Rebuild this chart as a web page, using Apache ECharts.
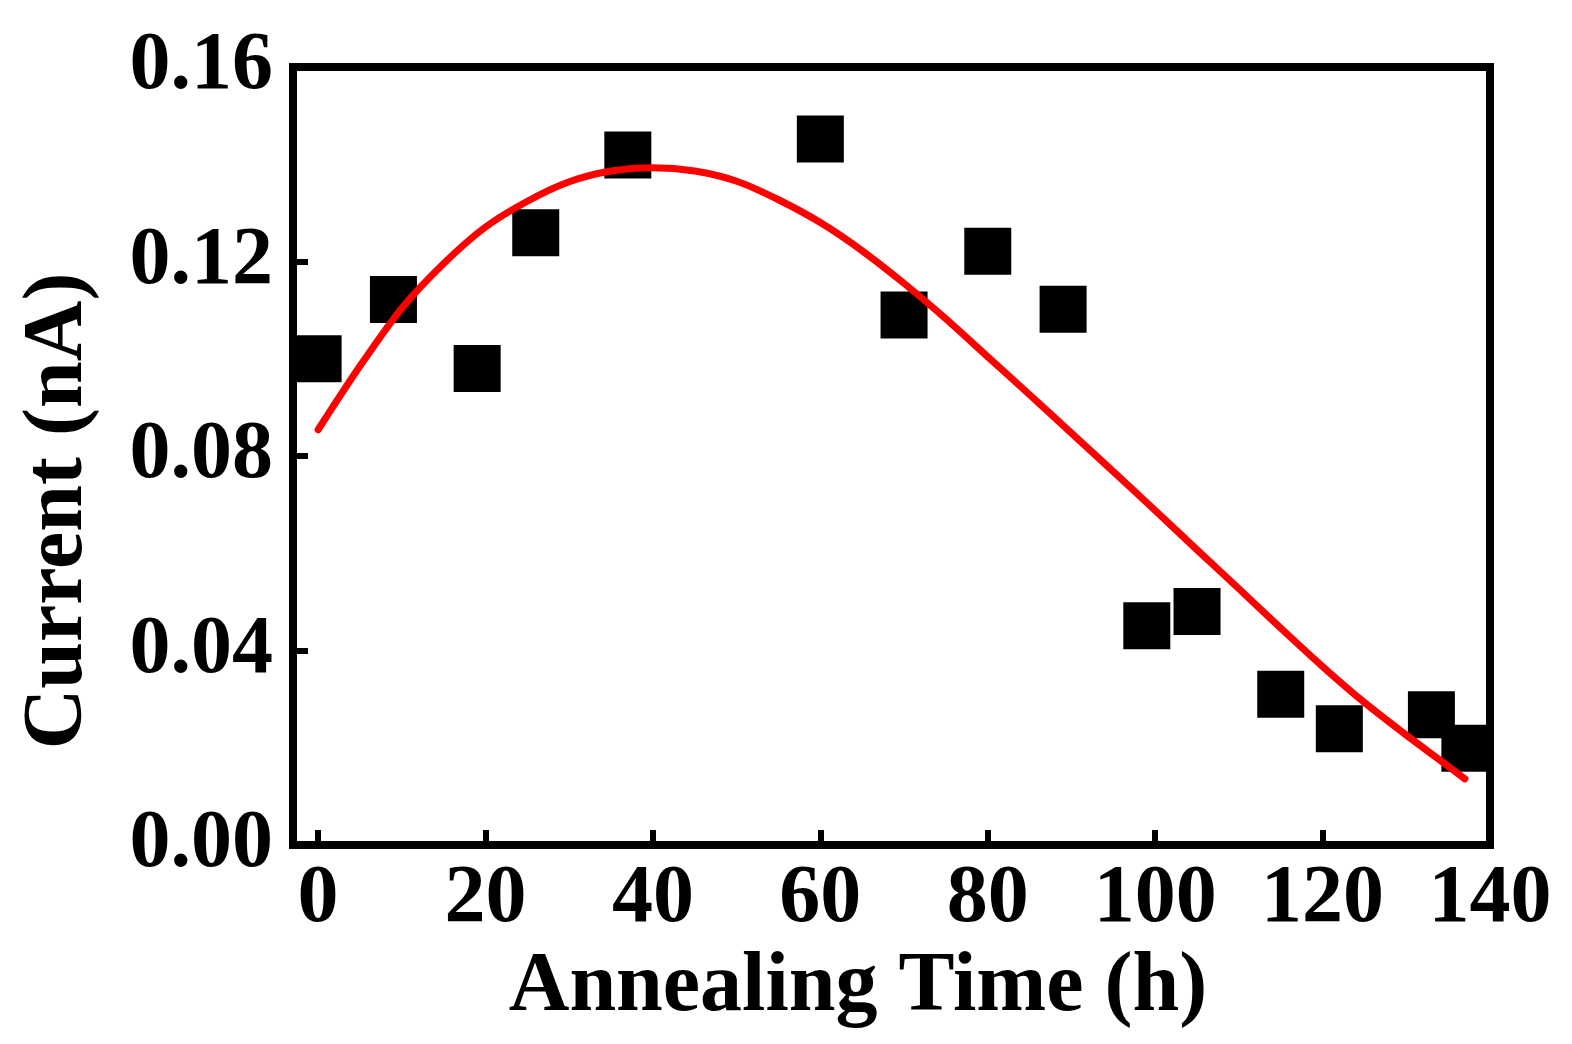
<!DOCTYPE html>
<html>
<head>
<meta charset="utf-8">
<script src="https://cdn.jsdelivr.net/npm/echarts@6/dist/echarts.min.js"></script>
<style>
  html, body { margin: 0; padding: 0; background: #fff; }
  #chart { width: 1572px; height: 1044px; }
</style>
</head>
<body>
<div id="chart"></div>
<script>
// measured points (annealing time in h, current in nA)
const timeH = [0, 9, 19, 26, 37, 60, 70, 80, 89, 99, 105, 115, 122, 133, 137];
const currentNA = [0.100, 0.1122, 0.098, 0.1259, 0.1419, 0.1452, 0.109, 0.1221, 0.1102,
  0.0451, 0.048, 0.031, 0.0239, 0.0268, 0.0199];

// fitted curve
const fitX = [0, 5, 10, 15, 20, 25, 30, 35, 40, 45, 50, 55, 60, 65, 70, 75, 80, 85, 90,
  95, 100, 105, 110, 115, 120, 125, 130, 135, 137];
const fitY = [0.0854, 0.0985, 0.1104, 0.1196, 0.1271, 0.1324, 0.1364, 0.1386, 0.1393,
  0.1386, 0.1365, 0.1327, 0.1280, 0.1222, 0.1155, 0.1082, 0.1004, 0.0926, 0.0847,
  0.0768, 0.0688, 0.0607, 0.0527, 0.0446, 0.0367, 0.0293, 0.0226, 0.0162, 0.0136];

const yTicks = [0, 0.04, 0.08, 0.12, 0.16];

const font = "'Liberation Serif', 'Times New Roman', serif";

const chart = echarts.init(document.getElementById("chart"));

chart.setOption({
  backgroundColor: "#fff",
  animation: false,
  grid: {
    left: 293, right: 82, top: 67, bottom: 199,
    show: true, borderColor: "#000", borderWidth: 8, backgroundColor: "transparent"
  },
  xAxis: {
    type: "value",
    min: -3,
    max: 140,
    splitNumber: 7,
    name: "Annealing Time (h)",
    nameLocation: "middle",
    nameGap: 88,
    nameTextStyle: {
      fontFamily: font, fontWeight: "bold", fontSize: 84, color: "#000",
      lineHeight: 84, padding: [0, 67, 0, 0]
    },
    axisLine: { onZero: false, lineStyle: { color: "#000", width: 8 } },
    axisTick: { inside: true, length: 15, lineStyle: { color: "#000", width: 6 } },
    axisLabel: {
      margin: 14,
      fontFamily: font, fontWeight: "bold", fontSize: 82, color: "#000", lineHeight: 82,
      formatter: (v) => (v % 20 === 0 ? String(v) : "")
    },
    splitLine: { show: false }
  },
  yAxis: {
    type: "value",
    min: yTicks[0],
    max: yTicks[yTicks.length - 1],
    interval: 0.04,
    name: "Current (nA)",
    nameLocation: "middle",
    nameGap: 192,
    nameTextStyle: {
      fontFamily: font, fontWeight: "bold", fontSize: 84, color: "#000",
      lineHeight: 84, padding: [0, 110, 0, 0]
    },
    axisLine: { onZero: false, lineStyle: { color: "#000", width: 8 } },
    axisTick: { inside: true, length: 15, lineStyle: { color: "#000", width: 6 } },
    axisLabel: {
      margin: 20,
      fontFamily: font, fontWeight: "bold", fontSize: 82, color: "#000",
      formatter: (v) => v.toFixed(2)
    },
    splitLine: { show: false }
  },
  series: [
    {
      type: "scatter",
      symbol: "rect",
      symbolSize: 47,
      itemStyle: { color: "#000", opacity: 1 },
      data: timeH.map((t, i) => [t, currentNA[i]]),
      z: 2
    },
    {
      type: "line",
      smooth: 0.3,
      showSymbol: false,
      lineStyle: { color: "#ff0000", width: 7, cap: "round", join: "round" },
      data: fitX.map((t, i) => [t, fitY[i]]),
      z: 3
    }
  ]
});
</script>
</body>
</html>
